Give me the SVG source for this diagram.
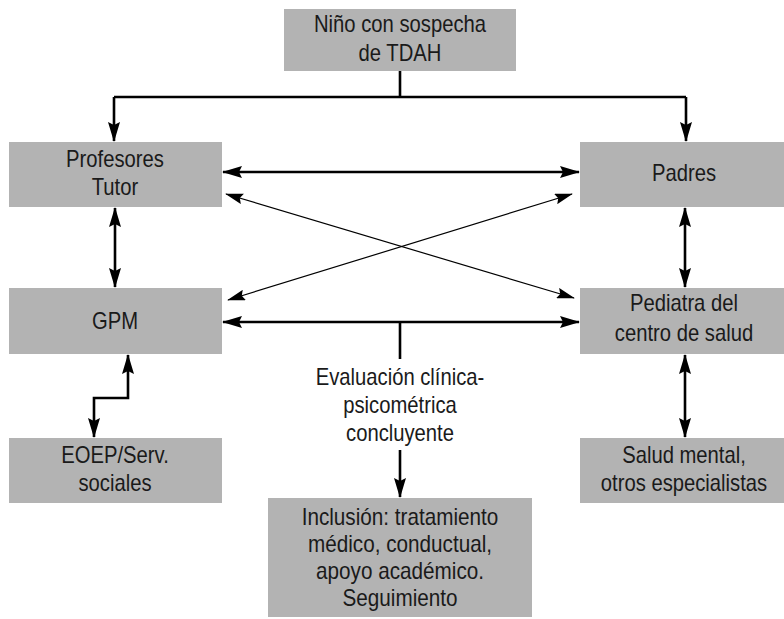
<svg xmlns="http://www.w3.org/2000/svg" width="784" height="619" viewBox="0 0 784 619">
<style>
.box{fill:#b3b3b3;stroke:none}
.t{font-family:"Liberation Sans",Arial,sans-serif;font-size:23px;fill:#1a1a1a;text-anchor:middle}
.thick{stroke:#000;stroke-width:2.6;fill:none}
.thin{stroke:#000;stroke-width:1.2;fill:none}
</style>
<defs>
<marker id="ah" viewBox="0 0 20 12" refX="19" refY="6" markerWidth="20" markerHeight="12" markerUnits="userSpaceOnUse" orient="auto-start-reverse">
<path d="M0,0 L20,6 L0,12 L3,6 Z" fill="#000"/>
</marker>
<marker id="ahs" viewBox="0 0 20 12" refX="19" refY="6" markerWidth="18" markerHeight="11" markerUnits="userSpaceOnUse" orient="auto-start-reverse">
<path d="M0,0 L20,6 L0,12 L3,6 Z" fill="#000"/>
</marker>
</defs>

<g id="connectors">
<path class="thick" d="M400,71 V97"/>
<path class="thick" d="M114,97 H686"/>
<path class="thick" d="M114,97 V141" marker-end="url(#ah)"/>
<path class="thick" d="M686,97 V141" marker-end="url(#ah)"/>
<path class="thick" d="M223,172 H579" marker-start="url(#ah)" marker-end="url(#ah)"/>
<path class="thin" d="M226,194 L574,298" marker-start="url(#ahs)" marker-end="url(#ahs)"/>
<path class="thin" d="M572,194 L228,300" marker-start="url(#ahs)" marker-end="url(#ahs)"/>
<path class="thick" d="M115,208 V287" marker-start="url(#ah)" marker-end="url(#ah)"/>
<path class="thick" d="M685,208 V287" marker-start="url(#ah)" marker-end="url(#ah)"/>
<path class="thick" d="M223,322 H579" marker-start="url(#ah)" marker-end="url(#ah)"/>
<path class="thick" d="M400,322 V359"/>
<path class="thick" d="M128,355 V398 H94 V437" marker-start="url(#ah)" marker-end="url(#ah)"/>
<path class="thick" d="M685,355 V437" marker-start="url(#ah)" marker-end="url(#ah)"/>
<path class="thick" d="M400,450 V497" marker-end="url(#ah)"/>
</g>

<g id="nino">
<rect class="box" x="284" y="9" width="232" height="62"/>
<text class="t" transform="translate(400 32) scale(0.88 1)"><tspan x="0" y="0">Niño con sospecha</tspan><tspan x="0" y="29">de TDAH</tspan></text>
</g>

<g id="profesores">
<rect class="box" x="9" y="142" width="213" height="65"/>
<text class="t" transform="translate(115 167) scale(0.88 1)"><tspan x="0" y="0">Profesores</tspan><tspan x="0" y="28">Tutor</tspan></text>
</g>

<g id="padres">
<rect class="box" x="580" y="142" width="204" height="65"/>
<text class="t" transform="translate(684 181) scale(0.88 1)">Padres</text>
</g>

<g id="gpm">
<rect class="box" x="9" y="288" width="213" height="66"/>
<text class="t" transform="translate(115 329) scale(0.88 1)">GPM</text>
</g>

<g id="pediatra">
<rect class="box" x="580" y="288" width="204" height="66"/>
<text class="t" transform="translate(684 311) scale(0.88 1)"><tspan x="0" y="0">Pediatra del</tspan><tspan x="0" y="30">centro de salud</tspan></text>
</g>

<g id="evaluacion">
<text class="t" transform="translate(400 385) scale(0.88 1)"><tspan x="0" y="0">Evaluación clínica-</tspan><tspan x="0" y="28">psicométrica</tspan><tspan x="0" y="56">concluyente</tspan></text>
</g>

<g id="eoep">
<rect class="box" x="9" y="438" width="213" height="65"/>
<text class="t" transform="translate(115 463) scale(0.88 1)"><tspan x="0" y="0">EOEP/Serv.</tspan><tspan x="0" y="28">sociales</tspan></text>
</g>

<g id="salud">
<rect class="box" x="580" y="438" width="204" height="65"/>
<text class="t" transform="translate(684 463) scale(0.88 1)"><tspan x="0" y="0">Salud mental,</tspan><tspan x="0" y="28">otros especialistas</tspan></text>
</g>

<g id="inclusion">
<rect class="box" x="268" y="498" width="264" height="119"/>
<text class="t" transform="translate(400 525) scale(0.9 1)"><tspan x="0" y="0">Inclusión: tratamiento</tspan><tspan x="0" y="27">médico, conductual,</tspan><tspan x="0" y="54">apoyo académico.</tspan><tspan x="0" y="81">Seguimiento</tspan></text>
</g>
</svg>
